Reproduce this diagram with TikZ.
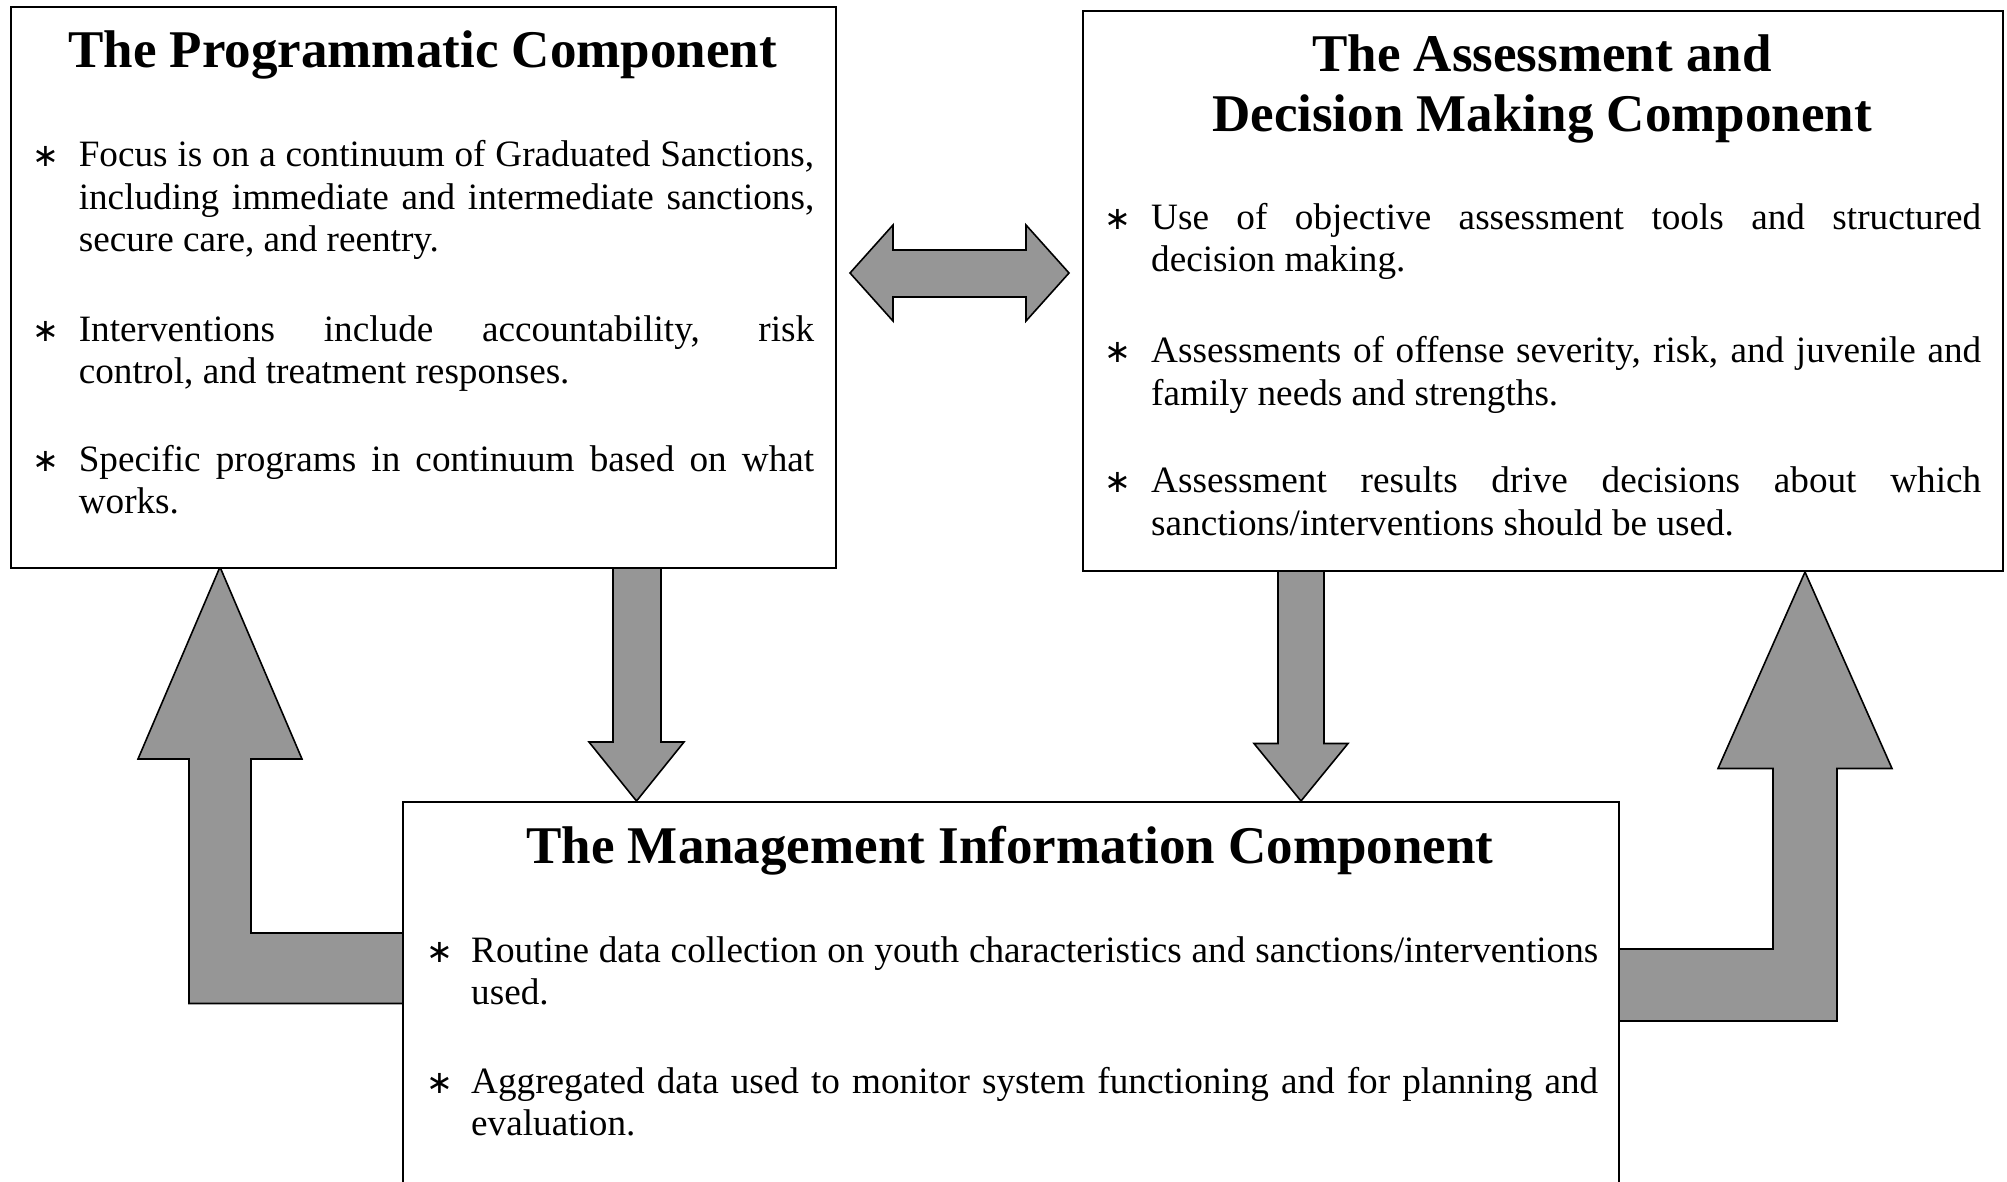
\documentclass[tikz,border=0pt]{standalone}
\usepackage{fontspec}
\setmainfont{Liberation Serif}
\newfontfamily\astfontfam{DejaVu Sans}
\usetikzlibrary{backgrounds}
\definecolor{arrowgray}{HTML}{969696}
\newcommand{\astsym}{{\astfontfam\fontsize{32}{32}\selectfont ∗}}
\newcommand{\bul}[2]{\hyphenpenalty=10000\exhyphenpenalty=10000\hbadness=10000\hangindent=#1pt\hangafter=1\noindent\rule{0pt}{30pt}\makebox[#1pt][l]{\astsym}#2\par}
\tikzset{
  box/.style={draw, line width=2pt, fill=white, inner sep=0pt, anchor=north west},
  blockarrow/.style={fill=arrowgray, draw=black, line width=1.6pt, line join=miter},
  titletext/.style={font=\bfseries\fontsize{53}{60}\selectfont, inner sep=0pt, align=center},
  bodytext/.style={font=\fontsize{37.2}{42.5}\selectfont, inner sep=0pt, anchor=north west, align=justify},
}
\begin{document}
\begin{tikzpicture}[x=1pt,y=-1pt]
\useasboundingbox (0,0) rectangle (2007,1181);
\clip (0,0) rectangle (2007,1181);

% boxes
\node[box, minimum width=825pt, minimum height=561pt] (prog) at (10,6) {};
\node[box, minimum width=920pt, minimum height=560pt] (assess) at (1082,10) {};
\node[box, minimum width=1216pt, minimum height=500pt] (mis) at (402,801) {};

% block arrows behind the boxes
\begin{scope}[on background layer]
\draw[blockarrow] (850,273) -- (893,225) -- (893,250) -- (1026,250) -- (1026,225) -- (1069,273)
  -- (1026,321) -- (1026,297) -- (893,297) -- (893,321) -- cycle;
\draw[blockarrow] (613,565) -- (661,565) -- (661,742) -- (684,742) -- (636.5,801) -- (589,742) -- (613,742) -- cycle;
\draw[blockarrow] (1278,568) -- (1324,568) -- (1324,743.5) -- (1348,743.5) -- (1301,801) -- (1254,743.5) -- (1278,743.5) -- cycle;
\draw[blockarrow] (404,933) -- (251,933) -- (251,759) -- (302,759) -- (220,567) -- (138,759) -- (189,759)
  -- (189,1003.5) -- (404,1003.5) -- cycle;
\draw[blockarrow] (1616,949) -- (1773,949) -- (1773,768.5) -- (1718,768.5) -- (1805,572) -- (1892,768.5)
  -- (1837,768.5) -- (1837,1021) -- (1616,1021) -- cycle;
\end{scope}

% titles
\node[titletext, anchor=base] (progtitle) at (422.5,67) {The Programmatic Component};
\node[titletext, anchor=north] (assesstitle) at (1542,31) {\rule{0pt}{40pt}The Assessment and\\Decision Making Component};
\node[titletext, anchor=base] (mistitle) at (1010,863) {The Management Information Component};

% programmatic bullets
\node[bodytext, text width=782pt] (p1) at (32,136.6) {\bul{46.6}{Focus is on a continuum of Graduated Sanctions,\linebreak including immediate and intermediate sanctions,\linebreak secure care, and reentry.}};
\node[bodytext, text width=782pt] (p2) at (32,311) {\bul{46.6}{Interventions include accountability, risk\linebreak control, and treatment responses.}};
\node[bodytext, text width=782pt] (p3) at (32,441) {\bul{46.6}{Specific programs in continuum based on what\linebreak works.}};

% assessment bullets
\node[bodytext, text width=877pt] (a1) at (1104,199) {\bul{47}{Use of objective assessment tools and structured\linebreak decision making.}};
\node[bodytext, text width=877pt] (a2) at (1104,332.5) {\bul{47}{Assessments of offense severity, risk, and juvenile and\linebreak family needs and strengths.}};
\node[bodytext, text width=877pt] (a3) at (1104,462.5) {\bul{47}{Assessment results drive decisions about which\linebreak sanctions/interventions should be used.}};

% management information bullets
\node[bodytext, text width=1172pt] (m1) at (426,932) {\bul{45}{Routine data collection on youth characteristics and sanctions/interventions\linebreak used.}};
\node[bodytext, text width=1172pt] (m2) at (426,1063) {\bul{45}{Aggregated data used to monitor system functioning and for planning and\linebreak evaluation.}};
\end{tikzpicture}
\end{document}
